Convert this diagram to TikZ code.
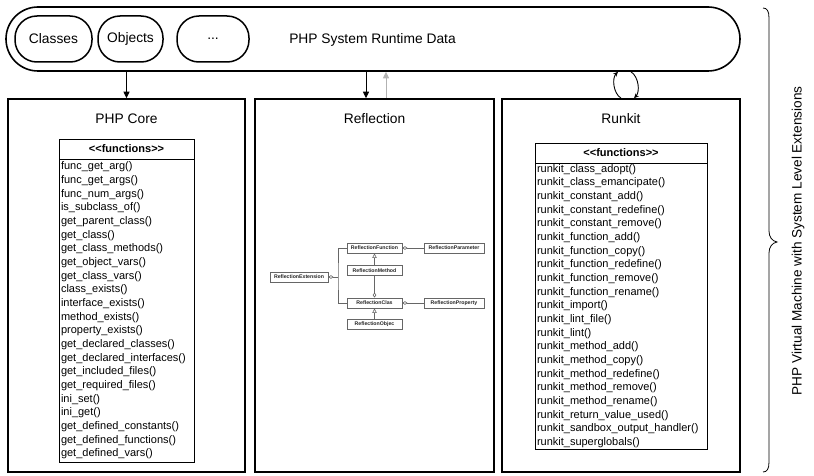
\documentclass[tikz,border=0pt]{standalone}
\usepackage{fontspec}
\setmainfont{Liberation Sans}
\usetikzlibrary{arrows.meta,shadows}

\begin{document}
\begin{tikzpicture}[x=1pt,y=-1pt,
  titlefont/.style={font=\fontsize{13.8}{16}\selectfont},
  runtime/.style={draw, line width=1.6pt, rounded corners=32pt,
    minimum width=734pt, minimum height=64pt},
  datum/.style={draw, line width=1.5pt, rounded corners=22pt,
    minimum height=46pt, titlefont},
  layer/.style={draw, line width=1.6pt, minimum width=237pt, minimum height=373pt},
  fnhead/.style={draw, line width=0.9pt, outer sep=0pt, minimum height=20pt,
    font=\fontsize{11}{13.67}\selectfont\bfseries},
  fnbody/.style={draw, line width=0.9pt, outer sep=0pt, align=left,
    inner xsep=2pt, inner ysep=0pt, anchor=north,
    font=\fontsize{11}{13.67}\selectfont},
  flow/.style={line width=1pt, -{Triangle[length=6.5pt,width=6pt]}},
  loop/.style={line width=0.9pt, -{Stealth[length=5pt,width=4.5pt]}},
  rclass/.style={draw=black!60, line width=0.9pt, fill=white, text=black!85,
    minimum height=10pt, inner sep=0.8pt,
    font=\fontsize{5.2}{5.7}\selectfont\bfseries,
    drop shadow={shadow xshift=0.7pt, shadow yshift=-0.7pt, opacity=0.35}},
  rlink/.style={draw=black!60, line width=0.6pt},
  agg/.style={{Diamond[open,length=5pt,width=3.6pt]}-},
  inherit/.style={-{Triangle[open,length=4.5pt,width=4.5pt]}}
]
\useasboundingbox (0,0) rectangle (814,476);

% runtime data container with its contents
\node[runtime] (rt) at (373,39) {};
\node[datum, minimum width=77pt] (classes) at (53.5,39) {Classes};
\node[datum, minimum width=65pt] (objects) at (130.5,39) {Objects};
\node[datum, minimum width=72pt] (more) at (213,39) {...};
\node[titlefont, anchor=base] (rtlabel) at (372.5,44) {PHP System Runtime Data};

% the three layers
\node[layer] (core) at (126.5,285.5) {};
\node[layer, minimum width=239pt] (refl) at (374.5,285.5) {};
\node[layer, minimum width=238pt] (runkit) at (621,285.5) {};

\node[titlefont, anchor=base] (coretitle) at (126.5,123.3) {PHP Core};
\node[titlefont, anchor=base] (refltitle) at (374.5,123.3) {Reflection};
\node[titlefont, anchor=base] (runkittitle) at (621,124) {Runkit};

% connections between runtime data and layers
\draw[flow] (rt.south -| core.north) -- (core.north);
\draw[flow] ([xshift=-8.5pt]refl.north |- rt.south) -- ([xshift=-8.5pt]refl.north);
\draw[flow, draw=black!30, -{Triangle[length=6.5pt,width=6pt,fill=black!30]}]
  ([xshift=11.5pt]refl.north) -- ([xshift=11.5pt]refl.north |- rt.south);

% Runkit reads and rewrites the runtime data
\coordinate (lpA) at (621,98.2);
\coordinate (lpB) at (618,71.8);
\coordinate (lpC) at (631,71.8);
\coordinate (lpD) at (634,98.2);
\draw[loop] (lpA) .. controls (613,93) and (612,78) .. (lpB);
\draw[loop] (lpC) .. controls (639,77) and (640,92) .. (lpD);

% PHP Core functions
\node[fnhead, minimum width=135pt] (corehdr) at (126.5,149) {<\kern0pt<functions>\kern0pt>};
\node[fnbody, text width=131pt, minimum height=303pt] (corefn) at (corehdr.south) {%
func\_get\_arg()\\
func\_get\_args()\\
func\_num\_args()\\
is\_subclass\_of()\\
get\_parent\_class()\\
get\_class()\\
get\_class\_methods()\\
get\_object\_vars()\\
get\_class\_vars()\\
class\_exists()\\
interface\_exists()\\
method\_exists()\\
property\_exists()\\
get\_declared\_classes()\\
get\_declared\_interfaces()\\
get\_included\_files()\\
get\_required\_files()\\
ini\_set()\\
ini\_get()\\
get\_defined\_constants()\\
get\_defined\_functions()\\
get\_defined\_vars()};

% Runkit functions
\node[fnhead, minimum width=172pt] (runkithdr) at (621,153) {<\kern0pt<functions>\kern0pt>};
\node[fnbody, text width=168pt, minimum height=286pt] (runkitfn) at (runkithdr.south) {%
runkit\_class\_adopt()\\
runkit\_class\_emancipate()\\
runkit\_constant\_add()\\
runkit\_constant\_redefine()\\
runkit\_constant\_remove()\\
runkit\_function\_add()\\
runkit\_function\_copy()\\
runkit\_function\_redefine()\\
runkit\_function\_remove()\\
runkit\_function\_rename()\\
runkit\_import()\\
runkit\_lint\_file()\\
runkit\_lint()\\
runkit\_method\_add()\\
runkit\_method\_copy()\\
runkit\_method\_redefine()\\
runkit\_method\_remove()\\
runkit\_method\_rename()\\
runkit\_return\_value\_used()\\
runkit\_sandbox\_output\_handler()\\
runkit\_superglobals()};

% Reflection class diagram
\node[rclass, minimum width=58pt] (rext) at (299,277) {ReflectionExtension};
\node[rclass, minimum width=55pt] (rfunc) at (374.5,248) {ReflectionFunction};
\node[rclass, minimum width=60pt] (rparam) at (454,248) {ReflectionParameter};
\node[rclass, minimum width=55pt] (rmeth) at (374.5,270.5) {ReflectionMethod};
\node[rclass, minimum width=55pt] (rcls) at (374.5,303) {ReflectionClas};
\node[rclass, minimum width=60pt] (rprop) at (454,303) {ReflectionProperty};
\node[rclass, minimum width=55pt] (robj) at (374.5,324.5) {ReflectionObjec};

\coordinate (rjoin) at (338,0 |- rext.east);
\draw[rlink, agg] (rext.east) -- (rjoin);
\draw[rlink] (rfunc.west) -| (rjoin) |- (rcls.west);
\draw[rlink, agg] (rfunc.east) -- (rparam.west);
\draw[rlink, agg] (rcls.east) -- (rprop.west);
\draw[rlink, inherit] (rmeth.north) -- (rfunc.south);
\draw[rlink, agg] (rcls.north) -- (rmeth.south);
\draw[rlink, inherit] (robj.north) -- (rcls.south);

% brace grouping the whole machine
\coordinate (brtop) at (763,8);
\coordinate (brtip) at (777,242);
\coordinate (brbot) at (763,472);
\draw[line width=0.8pt] (brtop) .. controls (767,8) and (769,11) .. (769,18)
  -- (769,231) .. controls (769,237) and (772,241) .. (brtip)
  .. controls (772,243) and (769,247) .. (769,253)
  -- (769,462) .. controls (769,469) and (767,472) .. (brbot);
\node[rotate=90, font=\fontsize{13.6}{15}\selectfont] (vmlabel) at (798,241)
  {PHP Virtual Machine with System Level Extensions};
\end{tikzpicture}
\end{document}
